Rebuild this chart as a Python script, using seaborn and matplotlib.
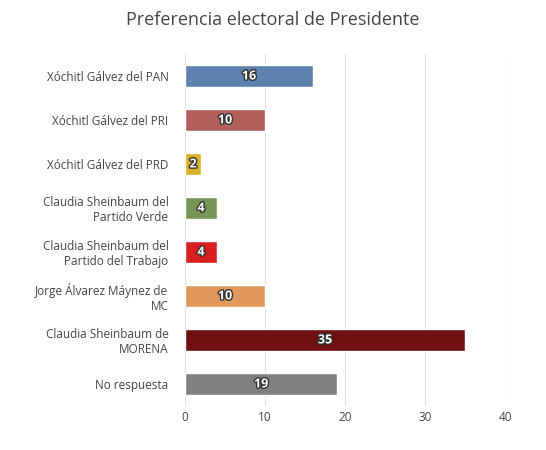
import matplotlib
matplotlib.use("Agg")
import matplotlib.pyplot as plt
import matplotlib.patheffects as pe
import seaborn as sns
import pandas as pd

categories = ["Xóchitl Gálvez del PAN", "Xóchitl Gálvez del PRI", "Xóchitl Gálvez del PRD",
              "Claudia Sheinbaum del\nPartido Verde", "Claudia Sheinbaum del\nPartido del Trabajo",
              "Jorge Álvarez Máynez de\nMC", "Claudia Sheinbaum de\nMORENA", "No respuesta"]
values = [16, 10, 2, 4, 4, 10, 35, 19]
colors = ["#4F81BD", "#C0504D", "#F5C10E", "#77A14A", "#F40000", "#F79646", "#800000", "#808080"]

df = pd.DataFrame({"cat": categories, "val": values})

sns.set_style("white")
plt.rcParams["font.family"] = ["Open Sans", "DejaVu Sans"]
fig = plt.figure(figsize=(5.46, 4.5), dpi=100)
ax = fig.add_axes([0.339, 0.098, 0.586, 0.782])
sns.barplot(data=df, x="val", y="cat", hue="cat", palette=colors, legend=False,
            width=0.5, ax=ax, orient="h")
for i, v in enumerate(values):
    ax.text(v / 2, i, str(v), ha="center", va="center", color="white", fontsize=9,
            fontweight="bold",
            path_effects=[pe.withStroke(linewidth=2, foreground="#333333")])
ax.set_xlim(0, 40)
ax.set_xticks([0, 10, 20, 30, 40])
ax.grid(axis="x", color="#e0e0e0", linewidth=0.8)
ax.set_axisbelow(True)
for s in ax.spines.values():
    s.set_visible(False)
ax.set_xlabel("")
ax.set_ylabel("")
ax.tick_params(axis="both", length=0, labelsize=8.5, colors="#444444")
ax.tick_params(axis="y", pad=12)
fig.text(0.5, 0.955, "Preferencia electoral de Presidente", ha="center", va="center",
         fontsize=13, color="#444444")
fig.savefig("out.png", dpi=100)
